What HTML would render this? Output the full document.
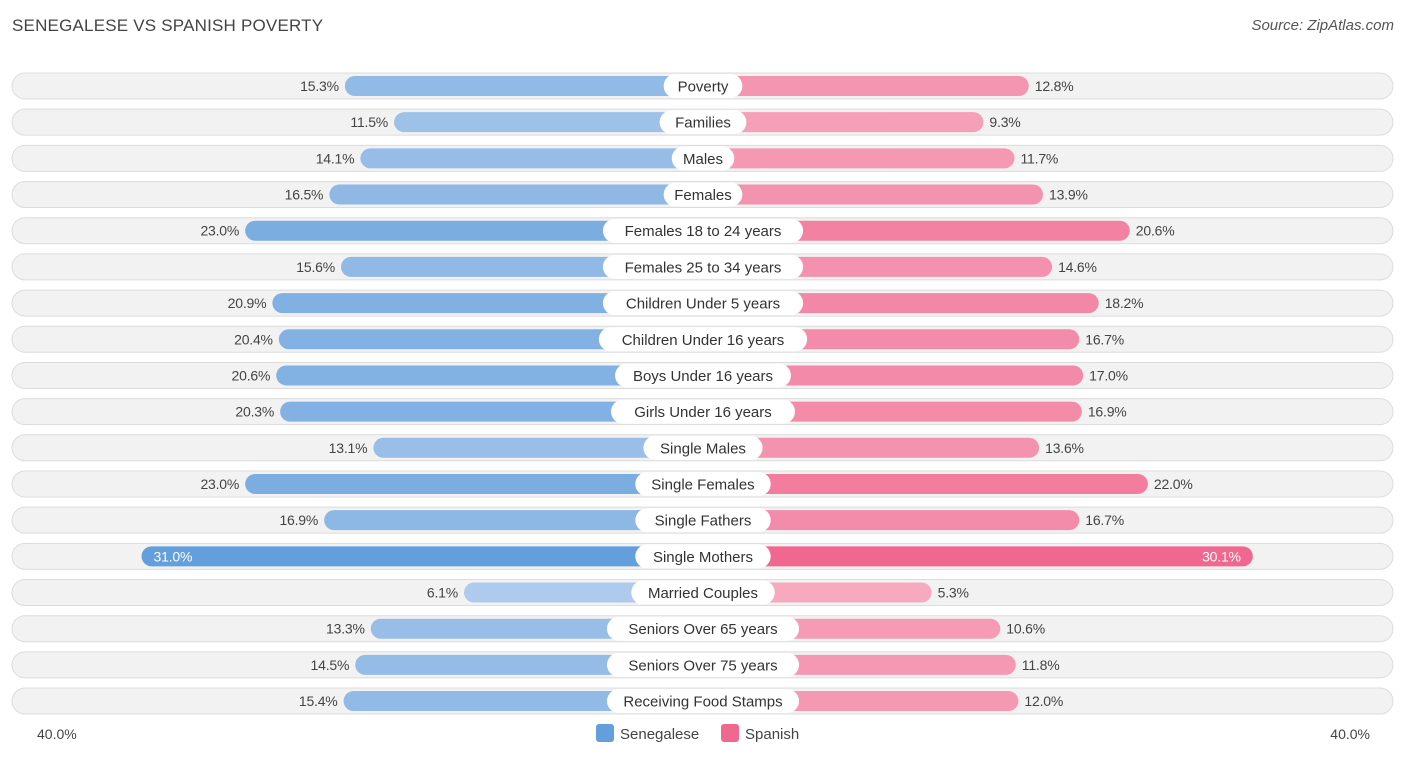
<!DOCTYPE html>
<html><head><meta charset="utf-8"><style>
body{margin:0;width:1406px;height:758px;background:#fff;font-family:"Liberation Sans",sans-serif;overflow:hidden;position:relative}
.t{position:absolute;left:12px;top:16px;font-size:17px;color:#444;letter-spacing:.2px}
.s{position:absolute;right:12px;top:17px;font-size:15px;color:#555;font-style:italic}
</style></head><body>
<div class="t">SENEGALESE VS SPANISH POVERTY</div>
<div class="s">Source: ZipAtlas.com</div>
<svg id="c" width="1406" height="758" style="position:absolute;left:0;top:0"></svg>
<script>
const categories=["Poverty","Families","Males","Females","Females 18 to 24 years","Females 25 to 34 years","Children Under 5 years","Children Under 16 years","Boys Under 16 years","Girls Under 16 years","Single Males","Single Females","Single Fathers","Single Mothers","Married Couples","Seniors Over 65 years","Seniors Over 75 years","Receiving Food Stamps"];
const senegalese=[15.3,11.5,14.1,16.5,23.0,15.6,20.9,20.4,20.6,20.3,13.1,23.0,16.9,31.0,6.1,13.3,14.5,15.4];
const spanish=[12.8,9.3,11.7,13.9,20.6,14.6,18.2,16.7,17.0,16.9,13.6,22.0,16.7,30.1,5.3,10.6,11.8,12.0];
const axisLabels=["40.0%","40.0%"];
const NS="http://www.w3.org/2000/svg",svg=document.getElementById('c');
const cx=703,off=160,k=12.95,y0=86,dy=36.18;
function xs(v){return off+v*k;}
function mk(t,a,p){const e=document.createElementNS(NS,t);for(const q in a)e.setAttribute(q,a[q]);(p||svg).appendChild(e);return e;}
function mix(a,b,t){return 'rgb('+a.map((x,i)=>Math.round(x+(b[i]-x)*t)).join(',')+')';}
categories.forEach((c,i)=>{
 const y=y0+i*dy;
 const g=mk('g',{});
 
 
 const bg=mk('rect',{x:12,y:y-13,width:1381,height:26,rx:13,fill:'#f2f2f2',stroke:'#dcdcdc','stroke-width':1},g);
 
 
 const sv=senegalese[i],pv=spanish[i];
 const t1=Math.min(1,Math.max(0,(sv-6)/25)),t2=Math.min(1,Math.max(0,(pv-5)/25));
 const lw=xs(sv),rw=xs(pv);
 const b1=mk('rect',{x:cx-lw,y:y-10,width:lw,height:20,rx:10,fill:mix([174,202,236],[99,159,220],t1)},g);
 
 
 const b2=mk('rect',{x:cx,y:y-10,width:rw,height:20,rx:10,fill:mix([246,170,192],[240,104,144],t2)},g);
 
 
 const inside=sv>28;
 const l1=mk('text',{x:inside?cx-lw+12:cx-lw-6,y:y+5,'font-size':14,'letter-spacing':'-0.2',fill:inside?'#fff':'#444','text-anchor':inside?'start':'end'},g);l1.textContent=sv.toFixed(1)+'%';
 
 
 const in2=pv>28;
 const l2=mk('text',{x:in2?cx+rw-12:cx+rw+6,y:y+5,'font-size':14,'letter-spacing':'-0.2',fill:in2?'#fff':'#444','text-anchor':in2?'end':'start'},g);l2.textContent=pv.toFixed(1)+'%';
 
 
 const tw=c.length*8.1+22;
 const pill=mk('rect',{x:cx-tw/2,y:y-12,width:tw,height:24,rx:12,fill:'#fff'},g);
 
 
 const lt=mk('text',{x:cx,y:y+5.5,'font-size':15,fill:'#333','text-anchor':'middle'},g);lt.textContent=c;
 
 
});
const a1=mk('text',{x:37,y:739,'font-size':14,fill:'#444'});a1.textContent=axisLabels[0];


const a2=mk('text',{x:1370,y:739,'font-size':14,fill:'#444','text-anchor':'end'});a2.textContent=axisLabels[1];


const lg1=mk('rect',{x:596,y:724,width:18,height:18,rx:3,fill:'#639fdc'});


const lt1=mk('text',{x:620,y:739,'font-size':15,fill:'#444'});lt1.textContent='Senegalese';


const lg2=mk('rect',{x:721,y:724,width:18,height:18,rx:3,fill:'#f06890'});


const lt2=mk('text',{x:745,y:739,'font-size':15,fill:'#444'});lt2.textContent='Spanish';


</script>
</body></html>
